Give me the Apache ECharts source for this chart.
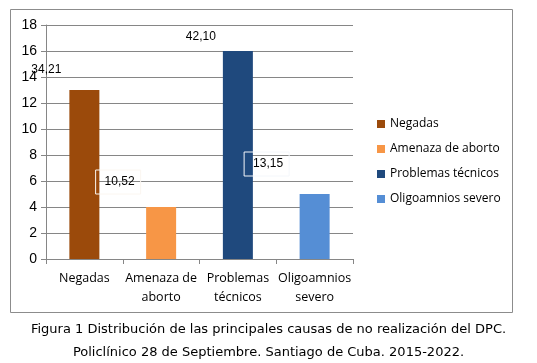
<!DOCTYPE html>
<html><head><meta charset="utf-8">
<script src="https://cdn.jsdelivr.net/npm/echarts@6/dist/echarts.min.js"></script>
<style>html,body{margin:0;padding:0;background:#fff}#c{width:537px;height:363px}</style>
</head><body><div id="c"></div>
<script>
const categories = ['Negadas', 'Amenaza de\naborto', 'Problemas\ntécnicos', 'Oligoamnios\nsevero'];
const seriesNames = ['Negadas', 'Amenaza de aborto', 'Problemas técnicos', 'Oligoamnios severo'];
const values = [13, 4, 16, 5];
const percentLabels = ['34,21', '10,52', '42,10', '13,15'];
const colors = ['#9B4A0B', '#F79646', '#1F497D', '#558ED5'];
const yTicks = {min: 0, max: 18, interval: 2};

// label placement (as drawn in the reference)
const labelStyles = [
  {position: 'top', offset: [-38, -9], borderWidth: 0},
  {position: 'top', offset: [-43, -8], borderColor: '#fbf6f0', borderWidth: 1, padding: [6, 6, 6, 9]},
  {position: 'top', offset: [-37, -3], borderWidth: 0},
  {position: 'top', offset: [-48, -13], borderColor: '#f4f7fb', borderWidth: 1, padding: [6, 6, 6, 9]}
];

const series = seriesNames.map((name, i) => ({
  name: name,
  type: 'bar',
  barWidth: 30,
  barGap: '-100%',
  itemStyle: {color: colors[i]},
  data: values.map((v, j) => j === i ? v : '-'),
  label: Object.assign({
    show: true,
    formatter: percentLabels[i],
    color: '#000',
    fontFamily: 'Liberation Sans',
    fontSize: 12
  }, labelStyles[i])
}));

const chart = echarts.init(document.getElementById('c'));
chart.setOption({
  animation: false,
  backgroundColor: '#fff',
  grid: {left: 46, right: 184, top: 25, bottom: 104},
  graphic: [{type: 'rect', shape: {x: 10.5, y: 9.5, width: 502, height: 303}, style: {fill: 'none', stroke: '#8c8c8c', lineWidth: 1}}],
  title: {
    text: 'Figura 1 Distribución de las principales causas de no realización del DPC.\nPoliclínico 28 de Septiembre. Santiago de Cuba. 2015-2022.',
    left: 'center', top: 313,
    textStyle: {fontFamily: 'DejaVu Sans', fontSize: 13, fontWeight: 'normal', color: '#000', lineHeight: 23}
  },
  legend: {
    orient: 'vertical', left: 372, top: 111,
    itemWidth: 8, itemHeight: 8, itemGap: 9,
    icon: 'rect',
    textStyle: {fontFamily: 'Open Sans', fontSize: 12, color: '#000', lineHeight: 16},
    data: seriesNames
  },
  xAxis: {
    type: 'category', data: categories,
    axisLine: {lineStyle: {color: '#868686'}},
    axisTick: {show: true, length: 5, lineStyle: {color: '#868686'}},
    axisLabel: {fontFamily: 'Open Sans', fontSize: 12.5, color: '#000', lineHeight: 19, margin: 10, interval: 0}
  },
  yAxis: {
    type: 'value', min: yTicks.min, max: yTicks.max, interval: yTicks.interval,
    axisLine: {show: true, lineStyle: {color: '#868686'}},
    axisTick: {show: true, length: 5, lineStyle: {color: '#868686'}},
    splitLine: {lineStyle: {color: '#868686'}},
    axisLabel: {fontFamily: 'Liberation Sans', fontSize: 14, color: '#000', margin: 9}
  },
  series: series
});
</script></body></html>
